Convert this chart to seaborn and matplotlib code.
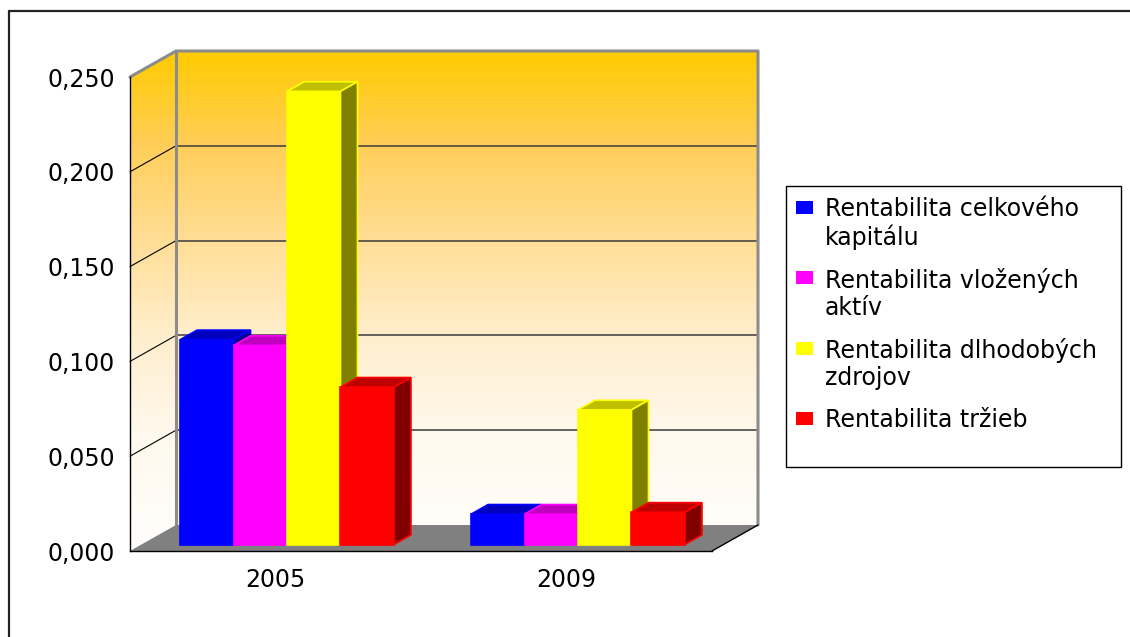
import matplotlib
matplotlib.use("Agg")
import matplotlib.pyplot as plt
import matplotlib.colors as mcolors
from matplotlib.patches import Polygon, Rectangle, PathPatch
from matplotlib.path import Path
from matplotlib.transforms import ScaledTranslation
import numpy as np
import pandas as pd
import seaborn as sns

years = ["2005", "2009"]
series = ["Rentabilita celkového kapitálu", "Rentabilita vložených aktív",
          "Rentabilita dlhodobých zdrojov", "Rentabilita tržieb"]
legend_labels = ["Rentabilita celkového\nkapitálu", "Rentabilita vložených\naktív",
                 "Rentabilita dlhodobých\nzdrojov", "Rentabilita tržieb"]
celkovy_kapital = [0.108, 0.016]
vlozene_aktiva = [0.105, 0.016]
dlhodobe_zdroje = [0.239, 0.071]
trzby = [0.083, 0.017]
colors = ["#0000FF", "#FF00FF", "#FFFF00", "#FF0000"]
y_ticks = [0, 0.05, 0.10, 0.15, 0.20, 0.25]
y_tick_labels = ["0,000", "0,050", "0,100", "0,150", "0,200", "0,250"]

df = pd.DataFrame({
    "rok": years * 4,
    "ukazovatel": [s for s in series for _ in years],
    "hodnota": celkovy_kapital + vlozene_aktiva + dlhodobe_zdroje + trzby,
})

sns.set_style("white")
plt.rcParams["font.family"] = ["DejaVu Sans"]
plt.rcParams["text.color"] = "black"
plt.rcParams["xtick.color"] = "black"
plt.rcParams["ytick.color"] = "black"

W, H = 1130, 637
DX, DY = 46, 26      # full depth of the 3d box in pixels
F0, F1 = 0.25, 0.62  # front / back depth of the bars

fig = plt.figure(figsize=(W / 100, H / 100), dpi=100)
bg = fig.add_axes([0, 0, 1, 1], zorder=0)
bg.axis("off")
ax = fig.add_axes([130 / W, 1 - 551 / H, 582 / W, 474 / H], zorder=1)
ax.patch.set_visible(False)

sns.barplot(data=df, x="rok", y="hodnota", hue="ukazovatel", order=years,
            hue_order=series, palette=colors, saturation=1, width=0.735,
            errorbar=None, legend=False, ax=ax)
ax.set_xlim(-0.5, 1.5)
ax.set_ylim(0, 0.25)


def disp(x, y, f):
    p = ax.transData.transform((x, y))
    return (p[0] + DX * f, p[1] + DY * f)


# walls with gradient
back = [disp(-0.5, 0, 1), disp(1.5, 0, 1), disp(1.5, 0.25, 1), disp(-0.5, 0.25, 1)]
side = [disp(-0.5, 0, 0), disp(-0.5, 0, 1), disp(-0.5, 0.25, 1), disp(-0.5, 0.25, 0)]
walls = Path.make_compound_path(Path(back + [back[0]], closed=True),
                                Path(side + [side[0]], closed=True))
cmap = mcolors.LinearSegmentedColormap.from_list("wall", [
    (0.0, "#FFFEFC"), (0.24, "#FFF8EC"), (0.43, "#FFEECD"),
    (0.62, "#FFDE96"), (0.81, "#FFCE5A"), (1.0, "#FFCB00")])
grad = np.linspace(0, 1, 256).reshape(-1, 1)
x0, y0 = disp(-0.5, 0, 0)
x1, y1 = disp(1.5, 0.25, 1)
im = bg.imshow(grad, extent=(x0, x1, y0, y1), origin="lower", aspect="auto",
               cmap=cmap, zorder=1)
im.set_clip_path(PathPatch(walls, transform=bg.transData))

# grid lines on walls
for t in y_ticks[1:-1]:
    a, b = disp(-0.5, t, 1), disp(1.5, t, 1)
    bg.plot([a[0], b[0]], [a[1], b[1]], color="#3a3a3a", lw=1.1, zorder=2)
    c = disp(-0.5, t, 0)
    bg.plot([c[0], a[0]], [c[1], a[1]], color="black", lw=0.8, zorder=2)

# wall outlines
edge = [disp(-0.5, 0.25, 0), disp(-0.5, 0.25, 1), disp(1.5, 0.25, 1), disp(1.5, 0, 1)]
bg.plot([p[0] for p in edge], [p[1] for p in edge], color="#8c8c8c", lw=2.2, zorder=3)
a, b = disp(-0.5, 0, 1), disp(-0.5, 0.25, 1)
bg.plot([a[0], b[0]], [a[1], b[1]], color="#8c8c8c", lw=2.2, zorder=3)

# floor
floor = [disp(-0.5, 0, 0), disp(1.5, 0, 0), disp(1.5, 0, 1), disp(-0.5, 0, 1)]
bg.add_patch(Polygon(floor, closed=True, facecolor="#808080", edgecolor="none", zorder=4))
a, b = disp(1.5, 0, 0), disp(1.5, 0, 1)
bg.plot([a[0], b[0]], [a[1], b[1]], color="black", lw=1, zorder=5)

# 3d bars: front faces from seaborn, top and side faces added
shift = ax.transData + ScaledTranslation(DX * F0 / 100, DY * F0 / 100, fig.dpi_scale_trans)
for k, cont in enumerate(ax.containers):
    col = np.array(mcolors.to_rgb(colors[k]))
    for bar in cont:
        x, w, h = bar.get_x(), bar.get_width(), bar.get_height()
        bar.set_transform(shift)
        bar.set_edgecolor(colors[k])
        bar.set_linewidth(1.2)
        bar.set_zorder(3 + k)
        bar.set_clip_on(False)
        top = [disp(x, h, F0), disp(x + w, h, F0), disp(x + w, h, F1), disp(x, h, F1)]
        sd = [disp(x + w, 0, F0), disp(x + w, 0, F1), disp(x + w, h, F1), disp(x + w, h, F0)]
        ax.add_patch(Polygon(top, closed=True, facecolor=col * 0.75, edgecolor=colors[k],
                             lw=1.2, transform=bg.transData, zorder=3.5 + k, clip_on=False))
        ax.add_patch(Polygon(sd, closed=True, facecolor=col * 0.5, edgecolor=colors[k],
                             lw=1.2, transform=bg.transData, zorder=3.5 + k, clip_on=False))

ax.set_xlim(-0.5, 1.5)
ax.set_ylim(0, 0.25)
bg.set_xlim(0, W)
bg.set_ylim(0, H)

# axes
ax.set_yticks(y_ticks, y_tick_labels)
ax.set_xticks([-0.5, 0.5, 1.5], ["", "", ""])
ax.set_xticks([0, 1], years, minor=True)
ax.tick_params(axis="y", length=7.2, width=1, pad=3.6, labelsize=17,
               color="black", labelcolor="black")
ax.tick_params(axis="x", which="major", length=6, width=1, color="black")
ax.tick_params(axis="x", which="minor", length=0, pad=12, labelsize=17,
               labelcolor="black")
ax.set_xlabel("")
ax.set_ylabel("")
for s in ["top", "right"]:
    ax.spines[s].set_visible(False)
for s in ["left", "bottom"]:
    ax.spines[s].set_color("black")
    ax.spines[s].set_linewidth(1)

# legend box
bg.add_patch(Rectangle((786, H - 467), 335, 281, facecolor="white",
                       edgecolor="black", lw=1, zorder=6))
for k, lab in enumerate(legend_labels):
    yc = H - (207.5 + 70.3 * k)
    bg.add_patch(Rectangle((796, yc - 6.5), 17, 13, facecolor=colors[k],
                           edgecolor="none", zorder=7))
    bg.text(825, yc + 10, lab, fontsize=17, va="top", ha="left",
            color="black", linespacing=1.15, zorder=7)

# outer border (top and left)
bg.plot([9, W], [H - 11, H - 11], color="#222222", lw=1.6, zorder=8)
bg.plot([9, 9], [0, H - 11], color="#222222", lw=1.6, zorder=8)

fig.savefig("out.png", dpi=100)
